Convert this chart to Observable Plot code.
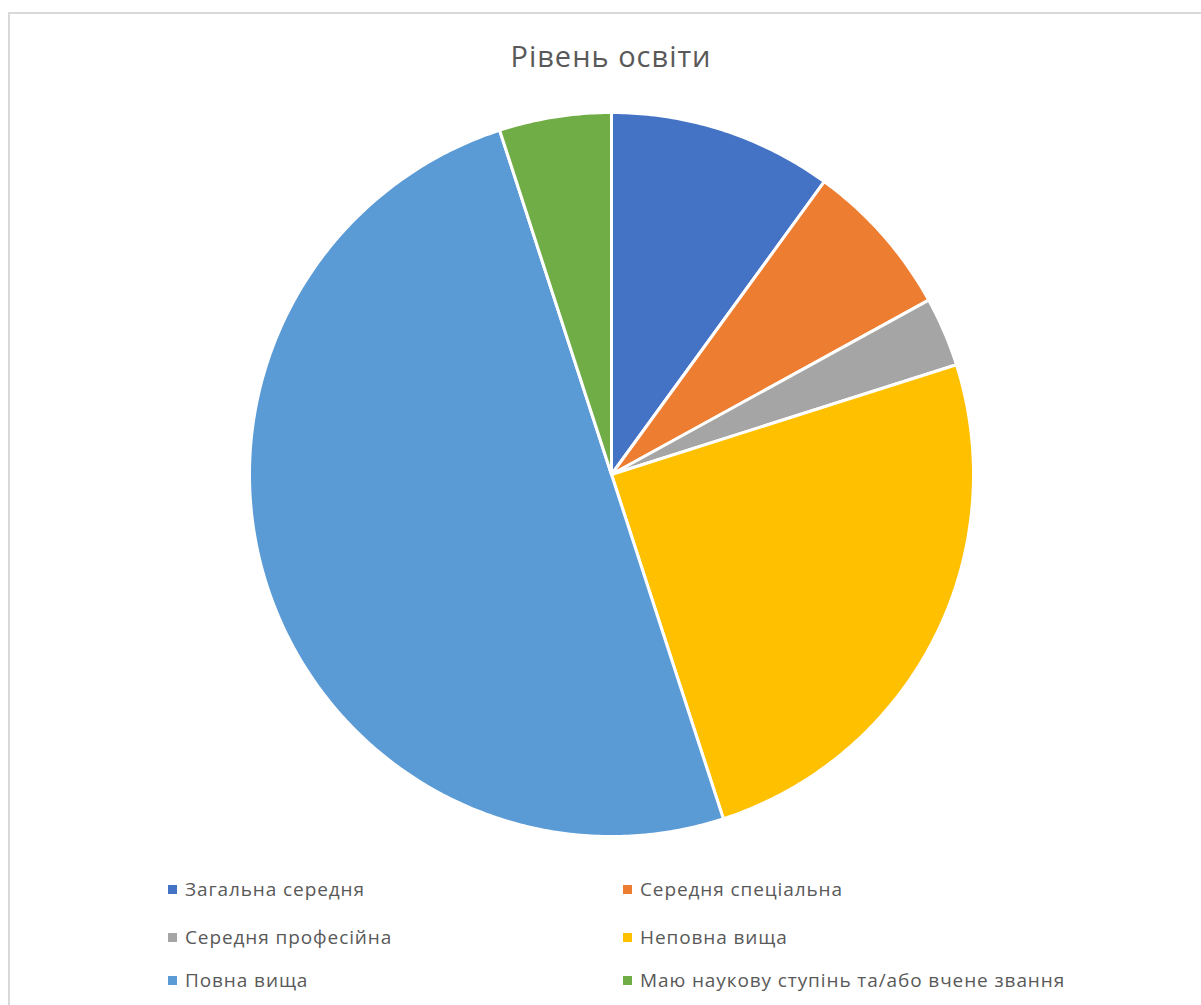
<!DOCTYPE html>
<html>
<head>
<meta charset="utf-8">
<script src="https://cdn.jsdelivr.net/npm/d3@7"></script>
<script src="https://cdn.jsdelivr.net/npm/@observablehq/plot@0.6"></script>
<style>
  html, body { margin: 0; padding: 0; background: #fff; }
  #wrap { position: relative; width: 1201px; height: 1005px; overflow: hidden; font-family: "Open Sans", "Noto Sans", sans-serif; }
  #frame { position: absolute; left: 8px; top: 12px; width: 1220px; height: 1020px; border: 2px solid #d9d9d9; box-sizing: border-box; }
  #title { position: absolute; left: 0; width: 1222px; top: 36px; text-align: center; font-size: 29px; letter-spacing: 1px; color: #595959; }
  #chart { position: absolute; left: 0; top: 0; }
  .leg { position: absolute; font-size: 19px; letter-spacing: 0.9px; color: #595959; white-space: nowrap; line-height: 24px; }
  .leg span.sw { position: absolute; left: -17px; top: 8px; width: 9px; height: 9px; }
</style>
</head>
<body>
<div id="wrap">
  <div id="frame"></div>
  <div id="title">Рівень освіти</div>
  <div id="chart"></div>
  <div id="legend"></div>
</div>
<script>
const categories = ["Загальна середня", "Середня спеціальна", "Середня професійна", "Неповна вища", "Повна вища", "Маю наукову ступінь та/або вчене звання"];
const values = [10, 7, 3.1, 24.9, 50, 5];
const colors = ["#4472C4", "#ED7D31", "#A5A5A5", "#FFC000", "#5B9BD5", "#70AD47"];

// wedge outlines computed from the values via d3.pie (angles), sampled along the arc
const arcs = d3.pie().sort(null).value(d => d)(values);
const pts = [];
arcs.forEach((a, i) => {
  const cat = categories[i];
  pts.push({cat, x: 0, y: 0});
  const n = Math.max(2, Math.ceil((a.endAngle - a.startAngle) / 0.01));
  for (let k = 0; k <= n; k++) {
    const t = a.startAngle + (a.endAngle - a.startAngle) * k / n;
    pts.push({cat, x: Math.sin(t), y: Math.cos(t)});
  }
  pts.push({cat, x: 0, y: 0});
});

const R = 362, cx = 611, cy = 474;
const W = 1201, H = 860;
const plot = Plot.plot({
  width: W, height: H,
  marginLeft: cx - R, marginRight: W - (cx + R),
  marginTop: cy - R, marginBottom: H - (cy + R),
  x: {domain: [-1, 1], axis: null},
  y: {domain: [-1, 1], axis: null},
  color: {domain: categories, range: colors},
  style: {background: "transparent", overflow: "visible"},
  marks: [
    Plot.line(pts, {x: "x", y: "y", z: "cat", fill: "cat", stroke: "white", strokeWidth: 3, strokeLinejoin: "round", curve: "linear"})
  ]
});
document.getElementById("chart").appendChild(plot);

const legPos = [[185, 877], [640, 877], [185, 925], [640, 925], [185, 968], [640, 968]];
const leg = document.getElementById("legend");
categories.forEach((c, i) => {
  const d = document.createElement("div");
  d.className = "leg";
  d.style.left = legPos[i][0] + "px";
  d.style.top = legPos[i][1] + "px";
  const sw = document.createElement("span");
  sw.className = "sw";
  sw.style.background = colors[i];
  d.appendChild(sw);
  d.appendChild(document.createTextNode(c));
  leg.appendChild(d);
});
</script>
</body>
</html>
